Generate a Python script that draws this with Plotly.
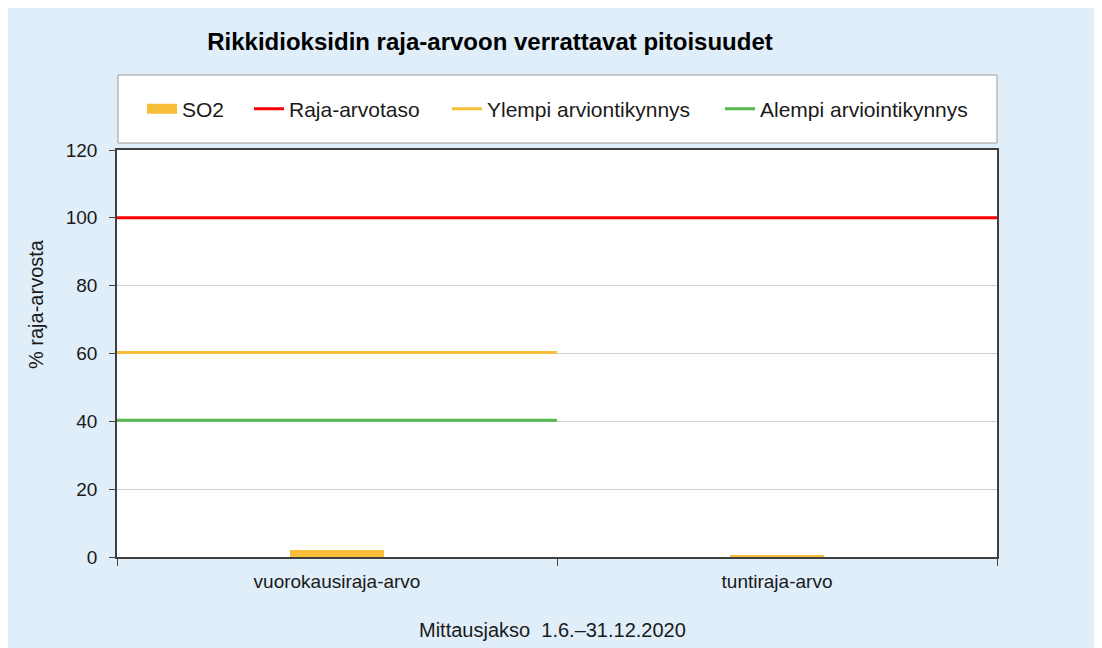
import plotly.graph_objects as go

categories = ["vuorokausiraja-arvo", "tuntiraja-arvo"]
so2_values = [2.0, 0.6]
raja_arvotaso = [100, 100]
ylempi = [60.3, 60.3]
alempi = [40.3, 40.3]
y_ticks = [0, 20, 40, 60, 80, 100, 120]

cat_pos = [i + 0.5 for i in range(len(categories))]
FONT = "Liberation Sans, Arial, sans-serif"
GOLD = "#F8BE37"
RED = "#FF0000"
GREEN = "#55B94F"

fig = go.Figure()
fig.add_trace(go.Bar(x=cat_pos, y=so2_values, name="SO2", width=0.214, showlegend=False,
                     legendgroup="so2", marker=dict(color=GOLD, line=dict(width=0))))
# legend entry for the SO2 bars (wide swatch as in the reference)
fig.add_trace(go.Scatter(x=[None], y=[None], mode="lines", name="SO2", legendgroup="so2",
                         line=dict(color=GOLD, width=10), legend="legend", hoverinfo="skip"))
fig.add_trace(go.Scatter(x=[0, len(categories)], y=raja_arvotaso, mode="lines", name="Raja-arvotaso",
                         line=dict(color=RED, width=3), legend="legend2"))
fig.add_trace(go.Scatter(x=[0, 1], y=ylempi, mode="lines", name="Ylempi arviontikynnys",
                         line=dict(color=GOLD, width=3), legend="legend3"))
fig.add_trace(go.Scatter(x=[0, 1], y=alempi, mode="lines", name="Alempi arviointikynnys",
                         line=dict(color=GREEN, width=3), legend="legend4"))

W, H = 1102, 648
L, T = 109, 142
pw, ph = 880, 407
R = W - L - pw
B = H - T - ph

def px_x(fx):
    return (fx - L) / pw

def px_y(fy):
    return 1 + (T - fy) / ph

leg_y = px_y(101)
leg_common = dict(orientation="h", yanchor="middle", xanchor="left", y=leg_y,
                  bgcolor="rgba(0,0,0,0)", borderwidth=0,
                  font=dict(family=FONT, size=21, color="#1a1a1a"))

fig.update_layout(
    width=W, height=H,
    showlegend=True,
    margin=dict(l=L, r=R, t=T, b=B, pad=0),
    paper_bgcolor="#DFEEF9",
    plot_bgcolor="#FFFFFF",
    font=dict(family=FONT, size=19, color="#1a1a1a"),
    title=dict(text="<b>Rikkidioksidin raja-arvoon verrattavat pitoisuudet</b>",
               font=dict(family=FONT, size=24, color="#000000"),
               xref="paper", x=px_x(482), xanchor="center",
               yref="container", y=1 - 34 / H, yanchor="middle"),
    legend=dict(x=px_x(134), **leg_common),
    legend2=dict(x=px_x(241), **leg_common),
    legend3=dict(x=px_x(439), **leg_common),
    legend4=dict(x=px_x(712), **leg_common),
    bargap=0,
    xaxis=dict(range=[0, len(categories)], tickvals=cat_pos, ticktext=categories,
               ticks="", showgrid=False, zeroline=False,
               showline=True, linecolor="#404040", linewidth=1.5, mirror=True,
               tickfont=dict(size=19), ticklabelstandoff=6,
               minor=dict(tickvals=list(range(len(categories) + 1)), ticks="outside",
                          ticklen=7, tickcolor="#404040", showgrid=False)),
    yaxis=dict(range=[0, 120], tickvals=y_ticks, ticks="outside", ticklen=6,
               tickcolor="#404040", showgrid=True, gridcolor="#D0D0D0", gridwidth=1,
               zeroline=False, showline=True, linecolor="#404040", linewidth=1.5, mirror=True,
               tickfont=dict(size=19), ticklabelstandoff=8),
    annotations=[
        dict(text="% raja-arvosta", textangle=-90, xref="paper", yref="paper",
             x=px_x(28), y=px_y(296), xanchor="center", yanchor="middle",
             showarrow=False, font=dict(size=20)),
        dict(text="Mittausjakso  1.6.–31.12.2020", xref="paper", yref="paper",
             x=px_x(544), y=px_y(622), xanchor="center", yanchor="middle",
             showarrow=False, font=dict(size=20)),
    ],
    shapes=[dict(type="rect", xref="paper", yref="paper",
                 x0=px_x(110), x1=1.0, y0=px_y(135), y1=px_y(67),
                 fillcolor="#FFFFFF", line=dict(color="#9A9A9A", width=1), layer="below")],
)

fig.write_html("out.html")
